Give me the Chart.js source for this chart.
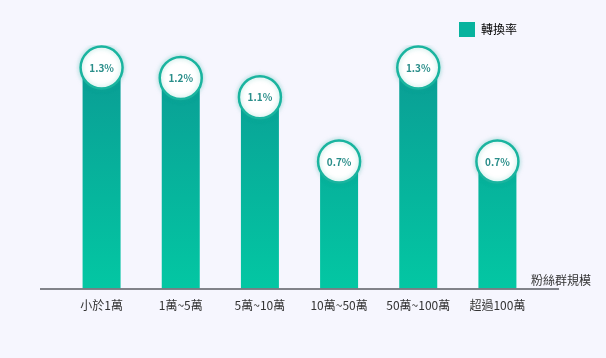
<!DOCTYPE html>
<html>
<head>
<meta charset="utf-8">
<script src="https://cdn.jsdelivr.net/npm/chart.js@4.4.0/dist/chart.umd.min.js"></script>
<style>
html,body{margin:0;padding:0;background:#f6f6fe;}
#wrap{width:606px;height:358px;position:relative;}
</style>
</head>
<body>
<div id="wrap"><canvas id="c" width="606" height="358"></canvas></div>
<script>
const categories = ['小於1萬', '1萬~5萬', '5萬~10萬', '10萬~50萬', '50萬~100萬', '超過100萬'];
const conversionRate = [1.27, 1.21, 1.10, 0.73, 1.27, 0.73];
const seriesName = '轉換率';
const axisTitle = '粉絲群規模';

const FONT = "'Noto Sans CJK TC', 'Noto Sans', sans-serif";

const decor = {
  id: 'decor',
  afterLayout(chart) {
    const lg = chart.legend;
    if (lg) {
      lg.left -= 10; lg.right -= 10;
      lg.top += 2; lg.bottom += 2;
    }
  },
  beforeDatasetDraw(chart, args) {
    if (args.index === 1) {
      const ctx = chart.ctx;
      ctx.save();
      ctx.shadowColor = 'rgba(20,170,150,0.35)';
      ctx.shadowBlur = 5;
    }
  },
  afterDatasetDraw(chart, args) {
    if (args.index === 1) chart.ctx.restore();
  },
  afterDatasetsDraw(chart) {
    const ctx = chart.ctx;
    const meta = chart.getDatasetMeta(1);
    ctx.save();
    ctx.font = "bold 10px " + FONT;
    ctx.fillStyle = '#2a8e8a';
    ctx.textAlign = 'center';
    ctx.textBaseline = 'middle';
    meta.data.forEach((pt, i) => {
      ctx.fillText(conversionRate[i].toFixed(1) + '%', pt.x, pt.y + 0.5);
    });
    ctx.restore();
  },
  afterDraw(chart) {
    const ctx = chart.ctx;
    const a = chart.chartArea;
    ctx.save();
    ctx.strokeStyle = '#5a5d63';
    ctx.lineWidth = 1.5;
    ctx.beginPath();
    ctx.moveTo(40, a.bottom + 0.5);
    ctx.lineTo(559, a.bottom + 0.5);
    ctx.stroke();
    ctx.font = "12px " + FONT;
    ctx.fillStyle = '#333';
    ctx.textAlign = 'right';
    ctx.textBaseline = 'middle';
    ctx.fillText(axisTitle, 591, a.bottom - 8);
    ctx.restore();
  }
};

function barGradient(context) {
  const chart = context.chart;
  const a = chart.chartArea;
  if (!a) return '#0aae9c';
  const g = chart.ctx.createLinearGradient(0, a.top, 0, a.bottom);
  g.addColorStop(0, '#0b9993');
  g.addColorStop(1, '#03c7a3');
  return g;
}

new Chart(document.getElementById('c'), {
  data: {
    labels: categories,
    datasets: [
      {
        type: 'bar',
        label: seriesName,
        data: conversionRate,
        backgroundColor: barGradient,
        borderWidth: 0,
        categoryPercentage: 1,
        barPercentage: 0.48,
        order: 1
      },
      {
        type: 'line',
        label: 'circles',
        data: conversionRate,
        showLine: false,
        pointRadius: 21,
        pointHoverRadius: 21,
        pointBackgroundColor: '#ffffff',
        pointBorderColor: '#1ab49f',
        pointBorderWidth: 2.5,
        order: 0
      }
    ]
  },
  options: {
    responsive: false,
    animation: false,
    layout: { padding: { left: 62, right: 69, top: 10, bottom: 35 } },
    plugins: {
      tooltip: { enabled: false },
      legend: {
        display: true,
        position: 'top',
        align: 'end',
        labels: {
          filter: (item) => item.datasetIndex === 0,
          boxWidth: 16,
          boxHeight: 15,
          color: '#2b2b2b',
          font: { family: FONT, size: 12 },
          generateLabels: (chart) => [{
            text: seriesName,
            fillStyle: '#08b39e',
            strokeStyle: '#08b39e',
            lineWidth: 0,
            datasetIndex: 0,
            hidden: false
          }]
        }
      }
    },
    scales: {
      x: {
        grid: { display: false, drawTicks: false },
        border: { display: false },
        ticks: { color: '#333', padding: 10, font: { family: FONT, size: 12 } }
      },
      y: {
        display: false,
        min: 0,
        max: 1.4
      }
    }
  },
  plugins: [decor]
});
</script>
</body>
</html>
